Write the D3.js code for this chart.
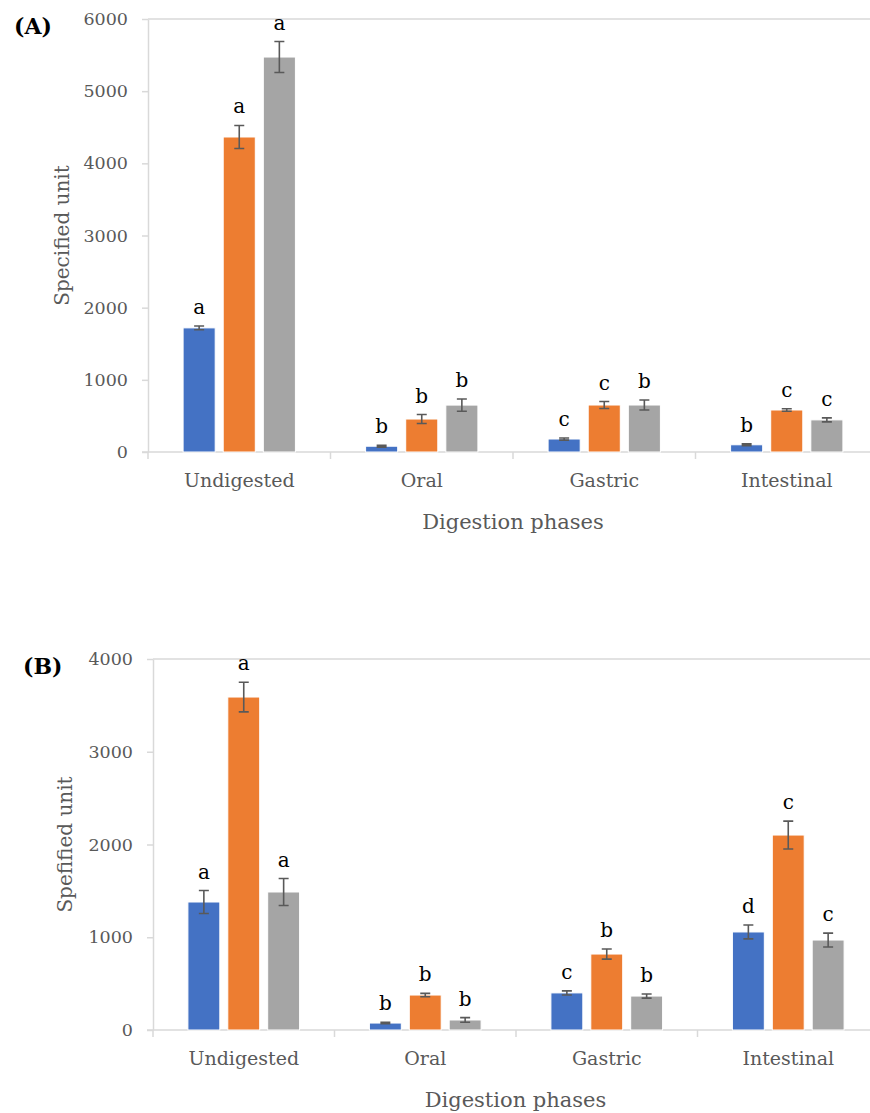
<!DOCTYPE html>
<html lang="en">
<head>
    <meta charset="UTF-8">
    <title>Digestion phases</title>
    <style>
        body { margin: 0; background: #fff; }
        text { font-family: "DejaVu Serif", "Liberation Serif", serif; }
    </style>
</head>
<body>
    <svg id="svg" width="870" height="1113"></svg>

    <script src="https://d3js.org/d3.v7.min.js"></script>
    <script>
        const phases = ["Undigested", "Oral", "Gastric", "Intestinal"]

        // panel A
        const aSeries1 = [1720, 80, 180, 100]
        const aSeries2 = [4365, 457, 651, 582]
        const aSeries3 = [5473, 650, 651, 445]
        const aErr1 = [25, 12, 15, 12]
        const aErr2 = [160, 62, 48, 18]
        const aErr3 = [215, 85, 70, 28]
        const aLetters1 = ["a", "b", "c", "b"]
        const aLetters2 = ["a", "b", "c", "c"]
        const aLetters3 = ["a", "b", "b", "c"]
        const aTicks = [0, 1000, 2000, 3000, 4000, 5000, 6000]

        // panel B
        const bSeries1 = [1380, 75, 400, 1057]
        const bSeries2 = [3590, 377, 819, 2102]
        const bSeries3 = [1488, 108, 366, 970]
        const bErr1 = [124, 8, 22, 75]
        const bErr2 = [160, 18, 55, 150]
        const bErr3 = [145, 25, 22, 75]
        const bLetters1 = ["a", "b", "c", "d"]
        const bLetters2 = ["a", "b", "b", "c"]
        const bLetters3 = ["a", "b", "b", "c"]
        const bTicks = [0, 1000, 2000, 3000, 4000]

        const colors = ["#4472c4", "#ed7d31", "#a5a5a5"]
        const axisColor = "#d9d9d9"
        const textColor = "#595959"

        const svg = d3.select("#svg")

        const drawPanel = (p) => {
            const g = svg.append("g")

            const x = d3.scaleBand()
                .domain(phases)
                .range([p.left, p.right])

            // 3 bars inside each category
            const xs = d3.scaleBand()
                .domain([0, 1, 2])
                .range([0, x.bandwidth()])
                .paddingInner(0.2)
                .paddingOuter(0.875)

            const y = d3.scaleLinear()
                .domain([0, d3.max(p.ticks)])
                .range([p.bottom, p.top])

            // top line
            g.append("line")
                .attr("x1", p.left).attr("x2", 870)
                .attr("y1", y(d3.max(p.ticks))).attr("y2", y(d3.max(p.ticks)))
                .attr("stroke", axisColor).attr("stroke-width", 1.5)

            // y axis
            const yAxis = g.append("g")
                .attr("transform", `translate(${p.left}, 0)`)
                .call(d3.axisLeft(y).tickValues(p.ticks).tickFormat(d3.format("d"))
                    .tickSize(6).tickSizeOuter(0).tickPadding(14))
            yAxis.select(".domain").attr("stroke", axisColor).attr("stroke-width", 1.5)
            yAxis.selectAll(".tick line").attr("stroke", axisColor).attr("stroke-width", 1.5)
            yAxis.selectAll(".tick text")
                .attr("fill", textColor)
                .style("font-size", "17.5px")
                .style("font-family", "DejaVu Serif")

            // x axis
            const xAxis = g.append("g")
                .attr("transform", `translate(0, ${p.bottom})`)
                .call(d3.axisBottom(x).tickSize(0).tickSizeOuter(0).tickPadding(22))
            xAxis.select(".domain").remove()
            xAxis.selectAll(".tick text")
                .attr("fill", textColor)
                .style("font-size", "19px")
                .style("font-family", "DejaVu Serif")
            g.append("line")
                .attr("x1", p.left - 6).attr("x2", 870)
                .attr("y1", p.bottom).attr("y2", p.bottom)
                .attr("stroke", axisColor).attr("stroke-width", 1.5)
            g.selectAll(".xtick")
                .data(phases)
                .enter()
                .append("line")
                .attr("class", "xtick")
                .attr("x1", d => x(d)).attr("x2", d => x(d))
                .attr("y1", p.bottom).attr("y2", p.bottom + 7)
                .attr("stroke", axisColor).attr("stroke-width", 1.5)

            // bars
            p.series.forEach((vals, si) => {
                const rows = phases.map((ph, i) => ({
                    phase: ph, v: vals[i], e: p.errors[si][i], l: p.letters[si][i]
                }))
                const sg = g.append("g")
                sg.selectAll("rect")
                    .data(rows)
                    .enter()
                    .append("rect")
                    .attr("x", d => x(d.phase) + xs(si))
                    .attr("y", d => y(d.v))
                    .attr("width", xs.bandwidth())
                    .attr("height", d => y(0) - y(d.v))
                    .attr("fill", colors[si])
                    .attr("stroke", "#fff")
                    .attr("stroke-width", 1)

                const cx = d => x(d.phase) + xs(si) + xs.bandwidth() / 2
                sg.selectAll(".err")
                    .data(rows)
                    .enter()
                    .append("path")
                    .attr("class", "err")
                    .attr("d", d => {
                        const c = cx(d), t = y(d.v + d.e), b = y(d.v - d.e)
                        return `M${c - 5},${t}H${c + 5}M${c},${t}V${b}M${c - 5},${b}H${c + 5}`
                    })
                    .attr("stroke", "#595959")
                    .attr("stroke-width", 1.6)
                    .attr("fill", "none")

                sg.selectAll(".lbl")
                    .data(rows)
                    .enter()
                    .append("text")
                    .attr("class", "lbl")
                    .attr("x", cx)
                    .attr("y", d => y(d.v + d.e) - 12)
                    .attr("text-anchor", "middle")
                    .style("font-size", "20px")
                    .attr("fill", "#000")
                    .text(d => d.l)
            })

            // axis titles
            g.append("text")
                .attr("x", (p.left + 878) / 2)
                .attr("y", p.bottom + 77)
                .attr("text-anchor", "middle")
                .attr("fill", textColor)
                .style("font-size", "21px")
                .text("Digestion phases")

            g.append("text")
                .attr("transform", `translate(${p.titleX}, ${(p.top + p.bottom) / 2}) rotate(-90)`)
                .attr("text-anchor", "middle")
                .attr("fill", textColor)
                .style("font-size", "20px")
                .text(p.yTitle)

            g.append("text")
                .attr("x", p.tagX)
                .attr("y", p.tagY)
                .attr("fill", "#000")
                .style("font-size", "22px")
                .style("font-weight", "bold")
                .text(p.tag)
        }

        drawPanel({
            left: 148, right: 878, top: 19, bottom: 452,
            ticks: aTicks,
            series: [aSeries1, aSeries2, aSeries3],
            errors: [aErr1, aErr2, aErr3],
            letters: [aLetters1, aLetters2, aLetters3],
            yTitle: "Specified unit", titleX: 69,
            tag: "(A)", tagX: 14, tagY: 34
        })

        drawPanel({
            left: 153, right: 879, top: 659, bottom: 1030,
            ticks: bTicks,
            series: [bSeries1, bSeries2, bSeries3],
            errors: [bErr1, bErr2, bErr3],
            letters: [bLetters1, bLetters2, bLetters3],
            yTitle: "Spefified unit", titleX: 72,
            tag: "(B)", tagX: 23, tagY: 674
        })
    </script>
</body>
</html>
